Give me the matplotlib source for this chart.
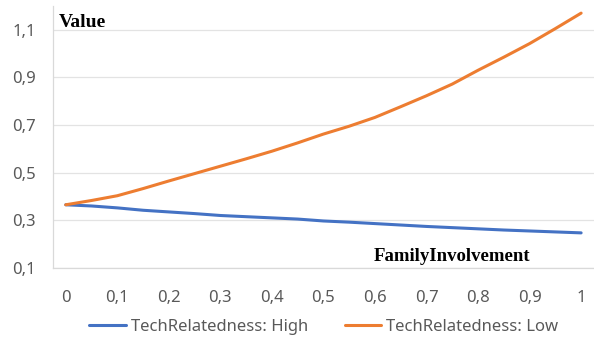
import matplotlib.pyplot as plt
from matplotlib.ticker import FuncFormatter

# values
family_inv = [0.0, 0.05, 0.1, 0.15, 0.2, 0.25, 0.3, 0.35, 0.4, 0.45, 0.5,
              0.55, 0.6, 0.65, 0.7, 0.75, 0.8, 0.85, 0.9, 0.95, 1.0]
tech_high = [0.365, 0.360, 0.352, 0.342, 0.335, 0.328, 0.320, 0.315, 0.310, 0.305, 0.297,
             0.292, 0.286, 0.280, 0.274, 0.269, 0.264, 0.259, 0.255, 0.251, 0.247]
tech_low = [0.365, 0.383, 0.403, 0.433, 0.465, 0.496, 0.527, 0.558, 0.590, 0.625, 0.662,
            0.695, 0.732, 0.777, 0.823, 0.872, 0.930, 0.985, 1.042, 1.105, 1.170]

x_ticks = [0, 0.1, 0.2, 0.3, 0.4, 0.5, 0.6, 0.7, 0.8, 0.9, 1]
y_ticks = [0.1, 0.3, 0.5, 0.7, 0.9, 1.1]

blue = '#4472C4'
orange = '#ED7D31'
grey = '#595959'

plt.rcParams['font.family'] = ['Noto Sans', 'DejaVu Sans']

fig = plt.figure(figsize=(5.94, 3.52), dpi=100)
ax = fig.add_axes([0.089, 0.239, 0.911, 0.744])

ax.plot(family_inv, tech_high, color=blue, lw=2.2, label='TechRelatedness: High',
        solid_capstyle='round')
ax.plot(family_inv, tech_low, color=orange, lw=2.2, label='TechRelatedness: Low',
        solid_capstyle='round')

ax.set_xlim(-0.025, 1.025)
ax.set_ylim(0.1, 1.2)
ax.set_xticks(x_ticks)
ax.set_yticks(y_ticks)

# comma as decimal separator
comma = FuncFormatter(lambda v, p: ('%g' % round(v, 2)).replace('.', ','))
ax.xaxis.set_major_formatter(comma)
ax.yaxis.set_major_formatter(comma)

ax.grid(axis='y', color='#e3e3e3', lw=0.9)
ax.set_axisbelow(True)
for s in ['top', 'right']:
    ax.spines[s].set_visible(False)
for s in ['left', 'bottom']:
    ax.spines[s].set_color('#d9d9d9')
    ax.spines[s].set_linewidth(0.9)

ax.tick_params(axis='both', length=0, colors=grey, labelsize=12)
ax.tick_params(axis='x', pad=16)
ax.tick_params(axis='y', pad=12)

ax.text(0.011, 0.97, 'Value', transform=ax.transAxes, family='Liberation Serif',
        fontweight='bold', fontsize=14, va='top', ha='left', color='black')
ax.text(0.882, 0.012, 'FamilyInvolvement', transform=ax.transAxes, family='Liberation Serif',
        fontweight='bold', fontsize=13.5, va='bottom', ha='right', color='black')

leg = fig.legend(loc='center', bbox_to_anchor=(0.545, 0.072), ncol=2, frameon=False,
                 fontsize=12, handlelength=2.2, columnspacing=2.2, handletextpad=0.3)
for t in leg.get_texts():
    t.set_color(grey)

fig.savefig('out.png', dpi=100)
